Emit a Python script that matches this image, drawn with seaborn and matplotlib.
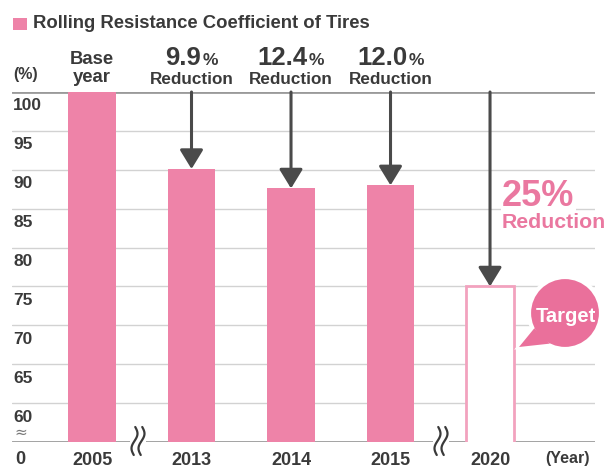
import numpy as np
import pandas as pd
import matplotlib
matplotlib.use("Agg")
import matplotlib.pyplot as plt
import seaborn as sns
from matplotlib.patches import Rectangle, Ellipse, Polygon
from matplotlib.lines import Line2D
from matplotlib.offsetbox import TextArea, HPacker, AnnotationBbox
import matplotlib.transforms as mtransforms

# ---- data ----
years = ["2005", "2013", "2014", "2015", "2020"]
values = [100.0, 90.1, 87.6, 88.0, 75.0]
reductions = [None, "9.9", "12.4", "12.0", None]
ytick_vals = [100, 95, 90, 85, 80, 75, 70, 65, 60]
title = "Rolling Resistance Coefficient of Tires"

PINK = "#EE83A8"
PINK_EDGE = "#F2A2BE"
PINK_TXT = "#EA78A0"
BUBBLE = "#EA709B"
DARK = "#3a3a3a"
ARROW = "#4a4a4a"

sns.set_style("white")
plt.rcParams["font.family"] = ["Liberation Sans", "DejaVu Sans"]

W, H = 610, 468
fig = plt.figure(figsize=(W / 100, H / 100), dpi=100)
AX_L, AX_R, AX_T, AX_B = 12, 595, 92, 442
ax = fig.add_axes([AX_L / W, 1 - AX_B / H, (AX_R - AX_L) / W, (AX_B - AX_T) / H])


def fx(x):
    return x / W


def fy(y):
    return 1 - y / H


df = pd.DataFrame({"year": years, "value": values})
pal = {y: PINK for y in years}
pal[years[-1]] = "white"
sns.barplot(data=df, x="year", y="value", hue="year", palette=pal, order=years,
            hue_order=years, dodge=False, width=0.48, legend=False, ax=ax,
            saturation=1, zorder=3)
for cont, yr in zip(ax.containers, years):
    for p in cont:
        if yr == years[-1]:
            p.set_facecolor("white")
            p.set_edgecolor(PINK_EDGE)
            p.set_linewidth(2)
        else:
            p.set_edgecolor("none")

ax.set_ylim(55, 100)
ax.set_xlim(-0.804, 5.055)
for s in ax.spines.values():
    s.set_visible(False)
ax.set_yticks([95, 90, 85, 80, 75, 70, 65, 60])
ax.set_yticklabels([])
ax.tick_params(axis="y", length=0)
ax.grid(axis="y", color="#d2d2d2", linewidth=1.0)
ax.set_axisbelow(True)
ax.axhline(100, color="#9a9a9a", linewidth=2, zorder=2)
ax.axhline(55, color="#9a9a9a", linewidth=2, zorder=2)
ax.set_xlabel("")
ax.set_ylabel("")
ax.set_xticks(range(len(years)))
ax.set_xticklabels(years, fontsize=13, fontweight="bold", color=DARK)
ax.tick_params(axis="x", length=0, pad=7)

# y tick labels, sitting just below their gridline
ytr = mtransforms.blended_transform_factory(ax.transAxes, ax.transData)
for v in ytick_vals:
    ax.text(0.002, v - 1.8, str(v), transform=ytr, ha="left", va="center",
            fontsize=12.5, fontweight="bold", color=DARK)
ax.text(0.004, 56.3, "≈", transform=ytr, ha="left", va="center",
        fontsize=11, color="#777777", family="DejaVu Sans")

fig.text(fx(20), fy(459), "0", ha="center", va="center", fontsize=13,
         fontweight="bold", color=DARK)
fig.text(fx(568), fy(459), "(Year)", ha="center", va="center", fontsize=11.5,
         color=DARK, fontweight="bold")
fig.text(fx(26), fy(75), "(%)", ha="center", va="center", fontsize=11.5,
         color=DARK, fontweight="bold")

# title with legend square
fig.add_artist(Rectangle((fx(13), fy(30)), 14 / W, 12 / H, transform=fig.transFigure,
                         facecolor=PINK, edgecolor="none"))
fig.text(fx(33), fy(23), title, ha="left", va="center", fontsize=13.3,
         fontweight="bold", color=DARK)

# top annotations
xtr = ax.get_xaxis_transform()
ax.text(0, 1.094, "Base", transform=xtr, ha="center", va="center",
        fontsize=13.3, fontweight="bold", color=DARK)
ax.text(0, 1.040, "year", transform=xtr, ha="center", va="center",
        fontsize=13.3, fontweight="bold", color=DARK)
for i, (r, v) in enumerate(zip(reductions, values)):
    if r is None:
        continue
    pk = HPacker(children=[
        TextArea(r, textprops=dict(fontsize=18.5, fontweight="bold", color=DARK)),
        TextArea("%", textprops=dict(fontsize=12.5, fontweight="bold", color=DARK)),
    ], align="baseline", pad=0, sep=1)
    ab = AnnotationBbox(pk, (i, 1.097), xycoords=xtr, frameon=False,
                        box_alignment=(0.5, 0.5), annotation_clip=False)
    ax.add_artist(ab)
    ax.text(i, 1.037, "Reduction", transform=xtr, ha="center", va="center",
            fontsize=12.3, fontweight="bold", color=DARK)

# arrows
for i, v in enumerate(values):
    if i == 0:
        continue
    ax.annotate("", xy=(i, v), xytext=(i, 100), xycoords="data",
                arrowprops=dict(arrowstyle="-|>,head_length=0.9,head_width=0.55",
                                mutation_scale=13, color=ARROW, lw=2.2,
                                shrinkA=0, shrinkB=0), zorder=5)

# 25% Reduction
fig.text(fx(502), fy(196), "25%", ha="left", va="center", fontsize=26,
         fontweight="bold", color=PINK_TXT, zorder=6,
         bbox=dict(facecolor="white", edgecolor="none", pad=1))
fig.text(fx(502), fy(222), "Reduction", ha="left", va="center", fontsize=15.3,
         fontweight="bold", color=PINK_TXT, zorder=6,
         bbox=dict(facecolor="white", edgecolor="none", pad=1))

# Target bubble
cx, cy, r = 565, 313, 36
ang = np.deg2rad([205, 245])
tail = [(cx + r * np.cos(ang[0]) + 2, cy - r * np.sin(ang[0])),
        (519, 347),
        (cx + r * np.cos(ang[1]), cy - r * np.sin(ang[1]) - 2)]
fig.add_artist(Polygon([(fx(a), fy(b)) for a, b in tail], closed=True,
                       transform=fig.transFigure, facecolor=BUBBLE,
                       edgecolor="white", linewidth=3, zorder=6))
fig.add_artist(Ellipse((fx(cx), fy(cy)), 2 * r / W, 2 * r / H,
                       transform=fig.transFigure, facecolor=BUBBLE,
                       edgecolor="white", linewidth=3, zorder=6))
fig.add_artist(Polygon([(fx(a), fy(b)) for a, b in tail], closed=True,
                       transform=fig.transFigure, facecolor=BUBBLE,
                       edgecolor="none", zorder=7))
fig.text(fx(cx + 1), fy(cy + 3), "Target", ha="center", va="center", fontsize=14.5,
         fontweight="bold", color="white", zorder=8)

# axis break marks
def squiggles(x0, y0):
    fig.add_artist(Rectangle((fx(x0 - 8), fy(y0 + 6)), 16 / W, 12 / H,
                             transform=fig.transFigure, facecolor="white",
                             edgecolor="none", zorder=8))
    t = np.linspace(0, 1, 60)
    for dx in (-3.5, 3.5):
        xs = x0 + dx + 2.6 * np.sin(2 * np.pi * t) + 1.5 * (0.5 - t)
        ys = y0 - 14 + 28 * t
        fig.add_artist(Line2D(fx(xs), fy(ys), transform=fig.transFigure,
                              color="#3a3a3a", linewidth=1.6, zorder=9))


squiggles(138, 441)
squiggles(441, 441)

fig.savefig("out.png", dpi=100)
